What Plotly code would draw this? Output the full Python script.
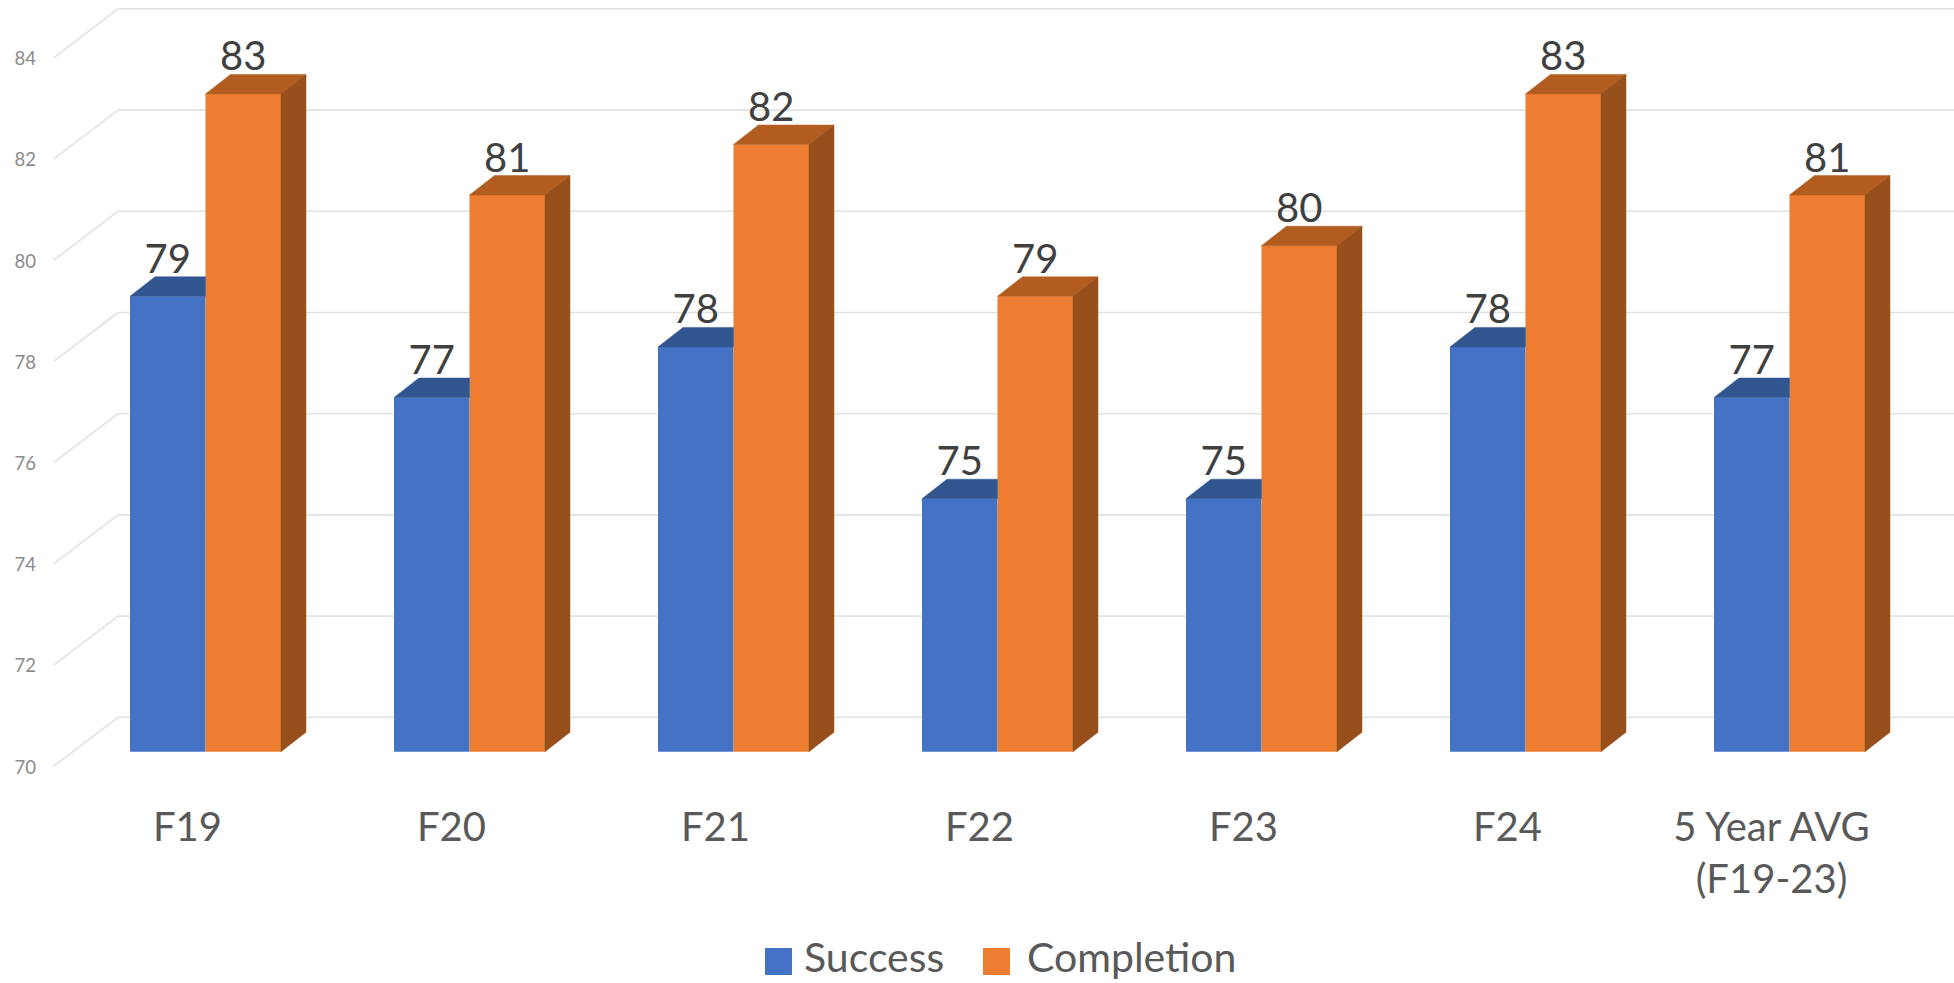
import plotly.graph_objects as go

categories = ["F19", "F20", "F21", "F22", "F23", "F24", "5 Year AVG<br>(F19-23)"]
success = [79, 77, 78, 75, 75, 78, 77]
completion = [83, 81, 82, 79, 80, 83, 81]
axis_ticks = [70, 72, 74, 76, 78, 80, 82, 84]

BASE = 70
BLUE, BLUE_TOP = "#4472C4", "#31558F"
ORANGE, ORANGE_TOP, ORANGE_SIDE = "#ED7D31", "#B35C20", "#97501B"
GRID = "#E2E2E2"
FONT = "Lato"

W, H = 1954, 983
M_L, M_B = 40, 193
PLOT_W, PLOT_H = W - M_L, H - M_B

# Pixel scale of the category and value axes
GROUP_PX, UNIT_PX = 264.0, 50.6
ZERO_X_PX, BASE_Y_PX = 205.5, 751.7
to_x = lambda px: (px - ZERO_X_PX) / GROUP_PX
to_y = lambda px: BASE + (BASE_Y_PX - px) / UNIT_PX

BAR_W = 75.5 / GROUP_PX
DEPTH_X, DEPTH_Y = 25 / GROUP_PX, 19.5 / UNIT_PX
LABEL_RISE = 14 / UNIT_PX

# The chart's box: floor corner, back wall corner and how far each sits from the bar plane
WALL_LEFT, WALL_RIGHT = to_x(118), to_x(W)
FRONT_LEFT = to_x(54)
WALL_SHIFT, FRONT_SHIFT = 34.4 / UNIT_PX, -14.3 / UNIT_PX
TICK_NUDGE = -1.2 / UNIT_PX

fig = go.Figure()


def polygon(xs, ys, color):
    fig.add_trace(go.Scatter(
        x=xs, y=ys, mode="lines", fill="toself", fillcolor=color,
        line=dict(color=color, width=0.5), hoverinfo="skip", showlegend=False,
    ))


# Gridlines on the side wall and the back wall, kept behind the bars
shapes = []
for v in axis_ticks:
    for x0, y0, x1, y1 in [
        (FRONT_LEFT, v + FRONT_SHIFT, WALL_LEFT, v + WALL_SHIFT),
        (WALL_LEFT, v + WALL_SHIFT, WALL_RIGHT, v + WALL_SHIFT),
    ]:
        shapes.append(dict(
            type="line", xref="x", yref="y", x0=x0, y0=y0, x1=x1, y1=y1,
            layer="below", line=dict(color=GRID, width=1.6),
        ))

# Front faces
positions = list(range(len(categories)))
fig.add_trace(go.Bar(
    x=positions, y=[v - BASE for v in success], base=BASE, width=BAR_W, offset=-BAR_W,
    marker=dict(color=BLUE, line=dict(width=0)), name="Success",
    customdata=success, hovertemplate="%{customdata}<extra>Success</extra>",
))
fig.add_trace(go.Bar(
    x=positions, y=[v - BASE for v in completion], base=BASE, width=BAR_W, offset=0,
    marker=dict(color=ORANGE, line=dict(width=0)), name="Completion",
    customdata=completion, hovertemplate="%{customdata}<extra>Completion</extra>",
))

# Extruded top and side faces
for i, (s, c) in enumerate(zip(success, completion)):
    polygon([i - BAR_W, i, i, i - BAR_W + DEPTH_X, i - BAR_W],
            [s, s, s + DEPTH_Y, s + DEPTH_Y, s], BLUE_TOP)
    polygon([i, i + BAR_W, i + BAR_W + DEPTH_X, i + DEPTH_X, i],
            [c, c, c + DEPTH_Y, c + DEPTH_Y, c], ORANGE_TOP)
    polygon([i + BAR_W, i + BAR_W + DEPTH_X, i + BAR_W + DEPTH_X, i + BAR_W, i + BAR_W],
            [c, c + DEPTH_Y, BASE + DEPTH_Y, BASE, c], ORANGE_SIDE)

# Value labels sit just above the back edge of each top face
label_font = dict(family=FONT, size=40, color="#404040")
fig.add_trace(go.Scatter(
    x=[i - BAR_W / 2 for i in positions], y=[v + DEPTH_Y + LABEL_RISE for v in success],
    mode="text", text=[str(v) for v in success], textposition="middle center",
    textfont=label_font, hoverinfo="skip", showlegend=False, cliponaxis=False,
))
fig.add_trace(go.Scatter(
    x=[i + BAR_W / 2 for i in positions], y=[v + DEPTH_Y + LABEL_RISE for v in completion],
    mode="text", text=[str(v) for v in completion], textposition="middle center",
    textfont=label_font, hoverinfo="skip", showlegend=False, cliponaxis=False,
))

# Legend drawn to size with square swatches
paper_x = lambda px: (px - M_L) / PLOT_W
paper_y = lambda py: (PLOT_H - py) / PLOT_H
annotations = []
for x0, label, color, text_x in [(765, "Success", BLUE, 802), (983, "Completion", ORANGE, 1025)]:
    shapes.append(dict(
        type="rect", xref="paper", yref="paper", line_width=0, fillcolor=color,
        x0=paper_x(x0), x1=paper_x(x0 + 27), y0=paper_y(948), y1=paper_y(975),
    ))
    annotations.append(dict(
        text=label, xref="paper", yref="paper", x=paper_x(text_x), y=paper_y(956),
        xanchor="left", yanchor="middle", showarrow=False,
        font=dict(family=FONT, size=41, color="#595959"),
    ))

fig.update_layout(
    width=W, height=H, autosize=False, barmode="overlay",
    margin=dict(l=M_L, r=0, t=0, b=M_B, pad=0),
    paper_bgcolor="white", plot_bgcolor="white", showlegend=False,
    font=dict(family=FONT), shapes=shapes, annotations=annotations,
    xaxis=dict(
        range=[to_x(M_L), to_x(W)], showgrid=False, zeroline=False, showline=False,
        tickmode="array", tickvals=[i - 18 / GROUP_PX for i in positions], ticktext=categories,
        ticks="", ticklabelstandoff=10, tickangle=0,
        tickfont=dict(family=FONT, size=40, color="#595959"),
    ),
    yaxis=dict(
        range=[to_y(PLOT_H), to_y(0)], showgrid=False, zeroline=False, showline=False,
        tickmode="array", tickvals=[v + FRONT_SHIFT + TICK_NUDGE for v in axis_ticks],
        ticktext=[str(v) for v in axis_ticks], ticks="", ticklabelstandoff=3,
        tickfont=dict(family=FONT, size=18.5, color="#8A8A8A"),
    ),
)

fig.write_html("out.html")
